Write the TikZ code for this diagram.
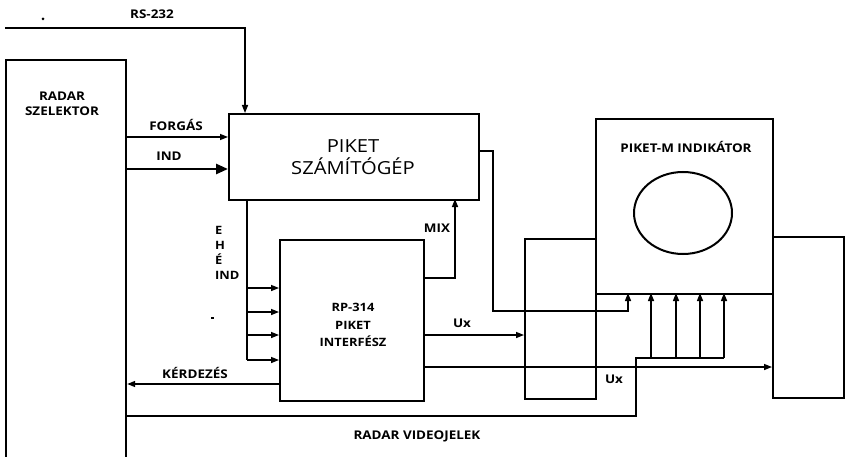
\documentclass[tikz,border=0pt]{standalone}
\usepackage{fontspec}
\setmainfont[FakeStretch=1.12]{Open Sans}
\usetikzlibrary{arrows.meta}
\begin{document}
\begin{tikzpicture}[x=1pt,y=-1pt,
  box/.style={draw, line width=2.2pt, rectangle, anchor=north west, inner sep=0pt},
  conn/.style={line width=1.4pt, -{Triangle[length=8pt,width=6pt]}},
  plain/.style={line width=1.4pt},
  lbl/.style={font=\bfseries\fontsize{12}{14}\selectfont, inner sep=0pt},
  big/.style={font=\fontsize{18}{22}\selectfont, align=center, inner sep=0pt}]
\useasboundingbox (0,0) rectangle (845,457);
% boxes
\node[box, minimum width=120pt, minimum height=420pt] (sel) at (5,59) {};
\node[box, minimum width=250pt, minimum height=86pt] (pc) at (228,113) {};
\node[box, minimum width=144pt, minimum height=161pt] (rp) at (279,239) {};
\node[box, minimum width=177pt, minimum height=175pt] (ind) at (595,118) {};
\node[box, minimum width=71pt, minimum height=160pt] (lb) at (524,238) {};
\node[box, minimum width=71pt, minimum height=161pt] (rb) at (772,236) {};
\draw[line width=2pt] (683,213) ellipse [x radius=49pt, y radius=41pt];
% texts
\node[lbl, align=center, font=\bfseries\fontsize{12}{15}\selectfont] (seltxt) at (62,104) {RADAR\\SZELEKTOR};
\node[big] (pctxt) at (353,157) {PIKET\\SZÁMÍTÓGÉP};
\node[lbl, align=center, font=\bfseries\fontsize{11.5}{17.5}\selectfont] (rptxt) at (353,325) {RP-314\\PIKET\\INTERFÉSZ};
\node[lbl] (indtxt) at (686,147) {PIKET-M INDIKÁTOR};
\node[lbl] (rs) at (152,14) {RS-232};
\node[lbl] (forg) at (176,125) {FORGÁS};
\node[lbl] (indl) at (169,156) {IND};
\node[lbl, align=left, anchor=north west, font=\bfseries\fontsize{11.5}{15}\selectfont] (ehe) at (215,226) {E\\H\\É\\IND};
\node[lbl] (mix) at (437,228) {MIX};
\node[lbl] (ux1) at (462,323) {Ux};
\node[lbl] (ux2) at (614,379) {Ux};
\node[lbl] (kerd) at (195,373) {KÉRDEZÉS};
\node[lbl] (vid) at (417,436) {RADAR VIDEOJELEK};
\fill (43,19) circle (1.5pt);
\fill (211,317) rectangle (214,319);
% RS-232
\coordinate (rsstart) at (5,28);
\draw[conn] (rsstart) -| (245,113);
% forgas, ind
\draw[conn] (sel.east |- 0,137) -- (pc.west |- 0,137);
\draw[line width=2.6pt, -{Triangle[length=12pt,width=10pt]}] (sel.east |- 0,169) -- (pc.west |- 0,169);
% E H E IND bus
\coordinate (bus) at (247,199);
\draw[plain] (bus) -- (247,360);
\foreach \yy in {288,312,335,360}
  \draw[conn] (247,\yy) -- (rp.west |- 0,\yy);
% MIX
\draw[conn] (rp.east |- 0,278) -| (455,199);
% KERDEZES
\draw[conn] (rp.west |- 0,384) -- (sel.east |- 0,384);
% Ux
\draw[conn] (rp.east |- 0,335) -- (lb.west |- 0,335);
\draw[conn] (rp.east |- 0,367) -- (rb.west |- 0,367);
% PC to indicator
\draw[conn] (pc.east |- 0,151) -- (493,151) -- (493,311) -| (628,293);
% video
\draw[line width=2pt] (sel.east |- 0,416) -- (636,416) -- (636,358) -- (724,358);
\foreach \xx in {651,676,700,724}
  \draw[conn] (\xx,358) -- (\xx,293);
\end{tikzpicture}
\end{document}
